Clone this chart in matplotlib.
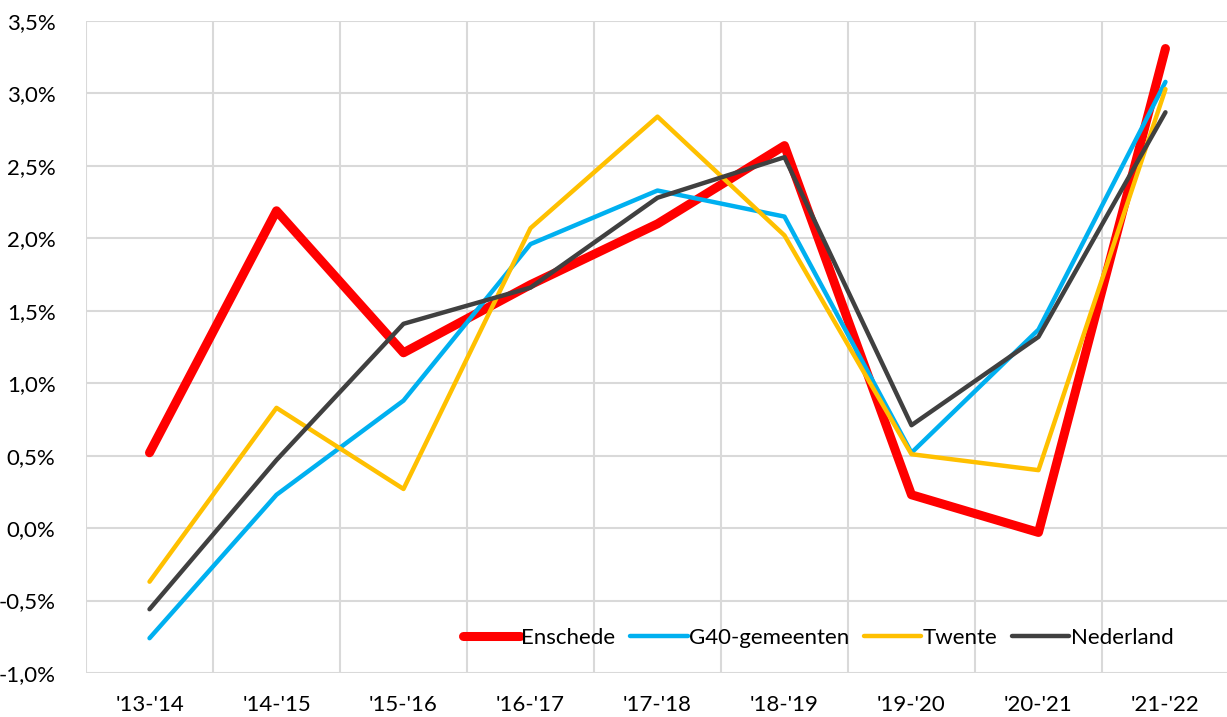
import matplotlib.pyplot as plt
from matplotlib.ticker import FuncFormatter

plt.rcParams['font.family'] = ['Lato', 'DejaVu Sans']

periods = ["'13-'14", "'14-'15", "'15-'16", "'16-'17", "'17-'18",
           "'18-'19", "'19-'20", "'20-'21", "'21-'22"]
enschede = [0.52, 2.19, 1.21, 1.68, 2.10, 2.64, 0.23, -0.03, 3.31]
g40 = [-0.76, 0.23, 0.88, 1.96, 2.33, 2.15, 0.52, 1.37, 3.08]
twente = [-0.37, 0.83, 0.27, 2.07, 2.84, 2.02, 0.51, 0.40, 3.03]
nederland = [-0.56, 0.47, 1.41, 1.66, 2.28, 2.56, 0.71, 1.32, 2.87]

fig = plt.figure(figsize=(12.27, 7.17), dpi=100)
ax = fig.add_axes([0.0701, 0.0614, 0.9315, 0.9093])

x = range(len(periods))
ax.plot(x, enschede, color='#FF0000', lw=6.5, solid_capstyle='round', solid_joinstyle='round', label='Enschede')
ax.plot(x, g40, color='#00B0F0', lw=3.2, solid_capstyle='round', label='G40-gemeenten')
ax.plot(x, twente, color='#FFC000', lw=3.2, solid_capstyle='round', label='Twente')
ax.plot(x, nederland, color='#404040', lw=3.2, solid_capstyle='round', label='Nederland')

ax.set_xlim(-0.5, 8.5)
ax.set_ylim(-1.0, 3.5)
ax.set_yticks([-1.0 + 0.5 * i for i in range(10)])
ax.yaxis.set_major_formatter(FuncFormatter(lambda v, p: ('%.1f%%' % v).replace('.', ',')))
ax.set_xticks(list(x))
ax.set_xticklabels(periods)
ax.set_xticks([i + 0.5 for i in range(-1, 9)], minor=True)

ax.grid(True, axis='y', color='#D9D9D9', lw=1.5)
ax.grid(True, axis='x', which='minor', color='#D9D9D9', lw=1.5)
ax.set_axisbelow(True)
for s in ax.spines.values():
    s.set_visible(False)
ax.tick_params(which='both', length=0, labelsize=16, colors='#000000')
ax.tick_params(axis='x', pad=16)
ax.tick_params(axis='y', pad=22)

ax.legend(loc='center right', bbox_to_anchor=(0.9635, 0.11), bbox_transform=fig.transFigure,
          ncol=4, frameon=False, fontsize=16, handlelength=2.6, handletextpad=0.05,
          columnspacing=0.65, borderaxespad=0)

plt.savefig('out.png', dpi=100)
